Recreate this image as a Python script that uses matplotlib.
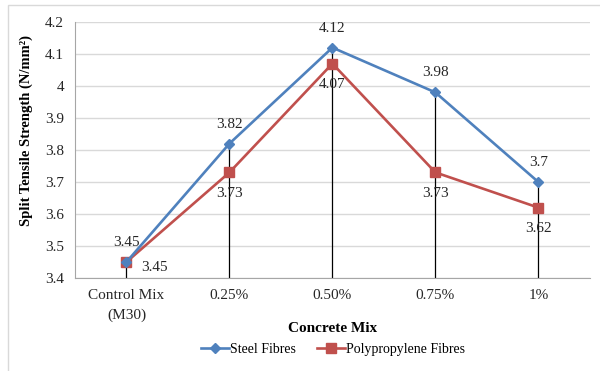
import matplotlib.pyplot as plt
from matplotlib.patches import Rectangle

plt.rcParams['font.family'] = ['Liberation Serif', 'DejaVu Serif']

categories = ['Control Mix\n(M30)', '0.25%', '0.50%', '0.75%', '1%']
steel = [3.45, 3.82, 4.12, 3.98, 3.7]
poly = [3.45, 3.73, 4.07, 3.73, 3.62]
steel_labels = ['3.45', '3.82', '4.12', '3.98', '3.7']
poly_labels = ['3.45', '3.73', '4.07', '3.73', '3.62']
y_ticks = [3.4, 3.5, 3.6, 3.7, 3.8, 3.9, 4.0, 4.1, 4.2]
y_ticklabels = ['3.4', '3.5', '3.6', '3.7', '3.8', '3.9', '4', '4.1', '4.2']

blue = '#4F81BD'
red = '#C0504D'

fig = plt.figure(figsize=(6, 3.71), dpi=100)
ax = fig.add_axes([0.125, 0.2507, 0.858, 0.69])

# light chart-area border (only top/left visible in the reference)
fig.patches.append(Rectangle((8 / 600, -0.1), 1.2, 1.1 - 5 / 371, transform=fig.transFigure,
                             fill=False, edgecolor='#D9D9D9', linewidth=1.0, zorder=0))

x = list(range(len(categories)))

# drop lines
for xi, s, p in zip(x, steel, poly):
    ax.plot([xi, xi], [3.4, max(s, p)], color='#000000', linewidth=0.9, zorder=2)

ax.plot(x, steel, color=blue, linewidth=1.9, marker='D', markersize=5, label='Steel Fibres', zorder=4)
ax.plot(x, poly, color=red, linewidth=1.9, marker='s', markersize=7, label='Polypropylene Fibres', zorder=3)

for i, (xi, v, t) in enumerate(zip(x, steel, steel_labels)):
    ax.annotate(t, (xi, v), xytext=(0, 14), textcoords='offset points', ha='center', va='center',
                fontsize=11, color='#262626')
for i, (xi, v, t) in enumerate(zip(x, poly, poly_labels)):
    off = (20, -4) if i == 0 else (0, -15)
    ax.annotate(t, (xi, v), xytext=off, textcoords='offset points', ha='center', va='center',
                fontsize=11, color='#262626')

ax.set_xlim(-0.5, 4.5)
ax.set_ylim(3.4, 4.2)
ax.set_yticks(y_ticks)
ax.set_yticklabels(y_ticklabels, fontsize=11)
ax.set_xticks(x)
ax.set_xticklabels(categories, fontsize=11, linespacing=1.6)
ax.tick_params(length=0, pad=8, colors='#262626')
ax.tick_params(axis='y', pad=8)

ax.grid(axis='y', color='#D9D9D9', linewidth=1.0)
ax.set_axisbelow(True)
for side in ['top', 'right']:
    ax.spines[side].set_visible(False)
for side in ['left', 'bottom']:
    ax.spines[side].set_color('#A6A6A6')

ax.set_xlabel('Concrete Mix', fontsize=11, fontweight='bold')
ax.xaxis.set_label_coords(0.5, -0.172)
ax.set_ylabel('Split Tensile Strength (N/mm²)', fontsize=10.5, fontweight='bold')
ax.yaxis.set_label_coords(-0.082, 0.578)

fig.legend(loc='center', bbox_to_anchor=(0.555, 0.058), ncol=2, frameon=False, fontsize=10,
           handlelength=2.0, handletextpad=0.1, columnspacing=1.5)

fig.savefig('out.png', dpi=100)
